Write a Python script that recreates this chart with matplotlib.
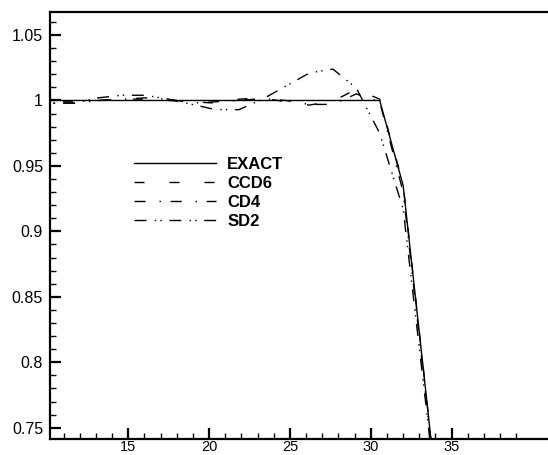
import matplotlib
matplotlib.use("Agg")
import matplotlib.pyplot as plt
from matplotlib.ticker import FixedLocator, FuncFormatter

# ---- data ----
x = [8.80, 10.25, 11.70, 13.15, 14.60, 16.05, 17.50, 18.95, 20.40, 21.85,
     23.30, 24.75, 26.20, 27.65, 29.10, 30.55, 32.00, 33.45, 34.90]
exact = [1.000, 1.000, 1.000, 1.000, 1.000, 1.000, 1.000, 1.000, 1.000, 1.000,
         1.000, 1.000, 1.000, 1.000, 1.000, 1.000, 0.935, 0.772, 0.605]
ccd6 = [1.000, 0.999, 0.999, 1.000, 1.001, 1.001, 1.000, 0.999, 0.998, 1.001,
        1.002, 0.999, 0.9965, 0.9995, 1.0085, 1.001, 0.936, 0.772, 0.605]
cd4 = [0.999, 0.998, 0.998, 1.000, 1.001, 1.002, 1.001, 0.998, 0.999, 1.000,
       1.0015, 1.000, 0.997, 0.997, 1.005, 0.999, 0.930, 0.769, 0.603]
sd2 = [0.997, 0.998, 0.998, 1.002, 1.004, 1.004, 1.001, 0.997, 0.993, 0.993,
       1.001, 1.011, 1.021, 1.024, 1.0095, 0.975, 0.917, 0.763, 0.600]
labels = ["EXACT", "CCD6", "CD4", "SD2"]
x_major = [15, 20, 25, 30, 35]
y_major = [0.75, 0.80, 0.85, 0.90, 0.95, 1.00, 1.05]

plt.rcParams['font.family'] = ['Liberation Sans', 'DejaVu Sans']

W, H = 548, 455
fig = plt.figure(figsize=(W / 100, H / 100), dpi=100)
left_px, bottom_px, top_px = 50, 438.7, 12
right_px = 560
ax = fig.add_axes([left_px / W, (H - bottom_px) / H,
                   (right_px - left_px) / W, (bottom_px - top_px) / H])

styles = [
    dict(linestyle='-'),
    dict(linestyle=(0, (7.2, 18))),
    dict(linestyle=(0, (8, 10, 1, 7))),
    dict(linestyle=(0, (8.6, 6, 1, 3, 1, 5.5))),
]
for ys, lab, st in zip([exact, ccd6, cd4, sd2], labels, styles):
    ax.plot(x, ys, color='black', lw=1.0, label=lab, **st)

px_per_unit = 16.17
x0 = 10.16
ax.set_xlim(x0, x0 + (right_px - left_px) / px_per_unit)
ax.set_ylim(0.7416, 1.0676)

ax.xaxis.set_major_locator(FixedLocator(x_major))
ax.xaxis.set_minor_locator(FixedLocator([v for v in range(11, 40) if v % 5]))
ax.yaxis.set_major_locator(FixedLocator(y_major))
ax.yaxis.set_minor_locator(FixedLocator([round(0.75 + 0.01 * i, 2) for i in range(32)]))
ax.yaxis.set_major_formatter(FuncFormatter(lambda v, p: f"{v:g}"))
ax.xaxis.set_major_formatter(FuncFormatter(lambda v, p: f"{v:g}"))

ax.tick_params(which='both', direction='in', top=False, right=False)
ax.tick_params(which='major', length=8, width=1.6)
ax.tick_params(which='minor', length=4.5, width=1.0)
ax.tick_params(axis='x', which='major', labelsize=10.5, pad=1.0)
ax.tick_params(axis='y', which='major', labelsize=11.5, pad=5)

for s in ['left', 'bottom', 'top']:
    ax.spines[s].set_linewidth(1.6)
ax.spines['right'].set_visible(False)

leg = ax.legend(loc='upper left', bbox_to_anchor=(134 / W, 1 - 157 / H),
                bbox_transform=fig.transFigure, frameon=False, borderpad=0,
                borderaxespad=0, handlelength=4.9, handletextpad=0.7,
                labelspacing=0.24, prop=dict(size=12, weight='bold'))

fig.savefig("out.png", dpi=100)
